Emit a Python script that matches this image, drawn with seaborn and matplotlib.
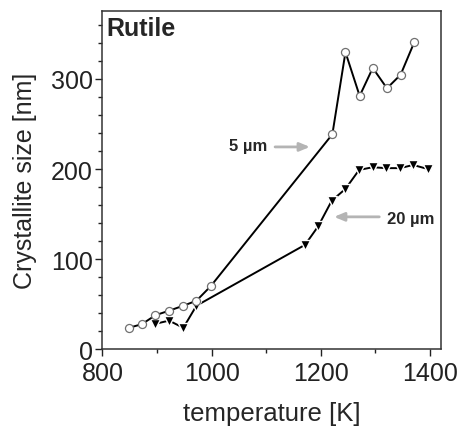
import matplotlib
matplotlib.use("Agg")
import matplotlib.pyplot as plt
from matplotlib.ticker import MultipleLocator
import seaborn as sns
import pandas as pd

# data
temp_5um = [848, 872, 897, 922, 948, 972, 998, 1221, 1245, 1271, 1295, 1321, 1346, 1371]
size_5um = [24, 28, 38, 43, 48.5, 54, 70, 238.5, 329.5, 281, 312, 289.5, 304.5, 340.5]
temp_20um = [897, 922, 948, 972, 1171, 1195, 1220, 1245, 1270, 1295, 1319, 1345, 1369, 1396]
size_20um = [28.5, 32, 24, 48.5, 116, 136.5, 165, 178, 199, 202, 201, 201, 204.5, 200]

x_ticks = [800, 1000, 1200, 1400]
y_ticks = [0, 100, 200, 300]

sns.set_style("ticks")
plt.rcParams['font.family'] = ['Liberation Sans', 'DejaVu Sans']

fig = plt.figure(figsize=(4.59, 4.31), dpi=100)
ax = fig.add_axes([0.2233, 0.1868, 0.9608 - 0.2233, 0.9729 - 0.1868])

df5 = pd.DataFrame({"T": temp_5um, "S": size_5um})
df20 = pd.DataFrame({"T": temp_20um, "S": size_20um})

sns.lineplot(data=df20, x="T", y="S", ax=ax, sort=False, color="black", lw=1.4,
             marker="v", markersize=7, markerfacecolor="black",
             markeredgecolor="white", markeredgewidth=1.0, zorder=3)
sns.lineplot(data=df5, x="T", y="S", ax=ax, sort=False, color="black", lw=1.4,
             marker="o", markersize=5.8, markerfacecolor="white",
             markeredgecolor="#707070", markeredgewidth=0.9, zorder=4)

ax.set_xlim(800, 1420)
ax.set_ylim(0, 375.5)
ax.set_xticks(x_ticks)
ax.set_yticks(y_ticks)
ax.xaxis.set_minor_locator(MultipleLocator(100))
ax.yaxis.set_minor_locator(MultipleLocator(20))
ax.tick_params(axis="both", which="major", direction="out", length=5, width=1,
               labelsize=18, colors="#222222", pad=2)
ax.tick_params(axis="x", which="major", pad=3)
ax.tick_params(axis="both", which="minor", direction="out", length=3, width=1,
               colors="#222222")
for s in ax.spines.values():
    s.set_linewidth(1.1)
    s.set_color("#333333")

ax.set_xlabel("temperature [K]", fontsize=18.5, labelpad=12)
ax.set_ylabel("Crystallite size [nm]", fontsize=18, labelpad=10)

ax.text(0.012, 0.983, "Rutile", transform=ax.transAxes, fontsize=18,
        fontweight="bold", va="top", ha="left")

arrow_kw = dict(arrowstyle="-|>,head_length=0.6,head_width=0.25", color="#b4b4b4", lw=2)
ax.annotate("", xy=(1185, 224.5), xytext=(1111, 224.5), arrowprops=arrow_kw)
ax.text(1066, 226, "5 µm", fontsize=12, fontweight="bold", ha="center", va="center")
ax.annotate("", xy=(1219, 147), xytext=(1312, 147), arrowprops=arrow_kw)
ax.text(1365, 145, "20 µm", fontsize=12, fontweight="bold", ha="center", va="center")

fig.savefig("out.png", dpi=100)
